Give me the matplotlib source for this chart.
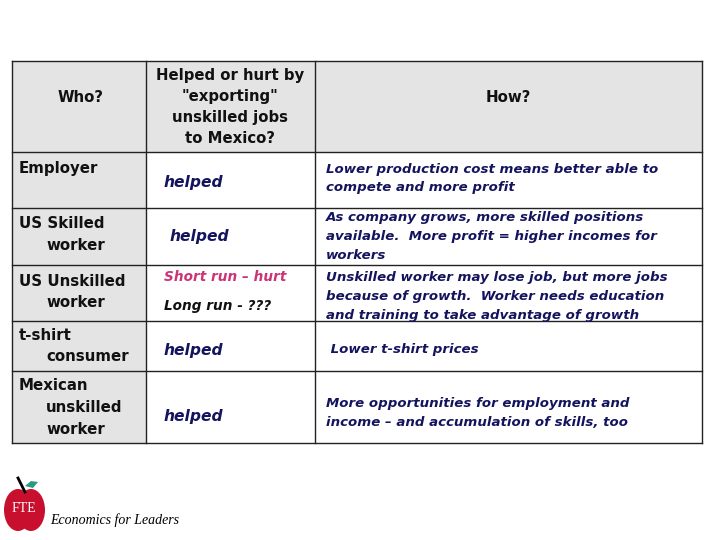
import matplotlib.pyplot as plt
from matplotlib.patches import Rectangle, Ellipse, Polygon

# table content
headers = ["Who?", "Helped or hurt by\n\"exporting\"\nunskilled jobs\nto Mexico?", "How?"]
who = [["Employer"], ["US Skilled", "worker"], ["US Unskilled", "worker"],
       ["t-shirt", "consumer"], ["Mexican", "unskilled", "worker"]]
effect = ["helped", "helped", "Short run \u2013 hurt", "helped", "helped"]
how = ["Lower production cost means better able to\ncompete and more profit",
       "As company grows, more skilled positions\navailable.  More profit = higher incomes for\nworkers",
       "Unskilled worker may lose job, but more jobs\nbecause of growth.  Worker needs education\nand training to take advantage of growth",
       " Lower t-shirt prices",
       "More opportunities for employment and\nincome \u2013 and accumulation of skills, too"]

# layout in pixels
col_x = [12, 146, 315, 702]
row_y = [61, 152, 208, 265, 321, 371, 443]
gray = "#e4e4e4"
navy = "#14145e"
pink = "#cc3377"
font = "DejaVu Sans"

fig = plt.figure(figsize=(7.2, 5.4), dpi=100)
ax = fig.add_axes([0, 0, 1, 1])
ax.set_xlim(0, 720)
ax.set_ylim(540, 0)
ax.axis("off")

# cell backgrounds
ax.add_patch(Rectangle((col_x[0], row_y[0]), col_x[3] - col_x[0], row_y[1] - row_y[0],
                       facecolor=gray, edgecolor="none"))
ax.add_patch(Rectangle((col_x[0], row_y[1]), col_x[1] - col_x[0], row_y[-1] - row_y[1],
                       facecolor=gray, edgecolor="none"))

# grid lines
for x in col_x:
    ax.plot([x, x], [row_y[0], row_y[-1]], color="#222222", lw=1)
for y in row_y:
    ax.plot([col_x[0], col_x[3]], [y, y], color="#222222", lw=1)

# header
ax.text(81, 97, headers[0], ha="center", va="center", fontsize=10.8, fontweight="bold",
        family=font, color="#111111")
ax.text(230, 107, headers[1], ha="center", va="center", fontsize=10.7, fontweight="bold",
        family=font, color="#111111", linespacing=1.5)
ax.text(508, 97, headers[2], ha="center", va="center", fontsize=10.8, fontweight="bold",
        family=font, color="#111111")

# first column
who_y = [168, 224, 281, 335, 386]
for lines, y in zip(who, who_y):
    for i, line in enumerate(lines):
        ax.text(19 if i == 0 else 46, y + i * 21.5, line, ha="left", va="center",
                fontsize=10.8, fontweight="bold", family=font, color="#111111")

# second column
eff_pos = [(164, 183), (170, 237), (164, 277), (164, 351), (164, 416)]
for label, (x, y) in zip(effect, eff_pos):
    c = pink if "Short" in label else navy
    fs = 9.8 if "Short" in label else 11.2
    ax.text(x, y, label, ha="left", va="center", fontsize=fs, fontweight="bold",
            style="italic", family=font, color=c)
ax.text(164, 306, "Long run - ???", ha="left", va="center", fontsize=9.8, fontweight="bold",
        style="italic", family=font, color="#111111")

# third column
how_y = [178.5, 236.5, 296.5, 350, 412.5]
for label, y in zip(how, how_y):
    ax.text(326, y, label, ha="left", va="center", fontsize=9.65, fontweight="bold",
            style="italic", family=font, color=navy, linespacing=1.6)

# logo
ax.add_patch(Ellipse((18, 510), 28, 42, facecolor="#c8102e", edgecolor="none"))
ax.add_patch(Ellipse((31, 510), 28, 42, facecolor="#c8102e", edgecolor="none"))
ax.plot([18, 25], [478, 492], color="black", lw=2)
ax.add_patch(Polygon([[25, 486], [31, 481], [38, 482], [33, 488]], facecolor="#2a9a80",
                     edgecolor="none"))
ax.text(24, 509, "FTE", ha="center", va="center", fontsize=10, color="white",
        family="Liberation Serif")
ax.text(50, 520, "Economics for Leaders", ha="left", va="center", fontsize=10,
        style="italic", family="Liberation Serif", color="black")

fig.savefig("out.png", dpi=100)
